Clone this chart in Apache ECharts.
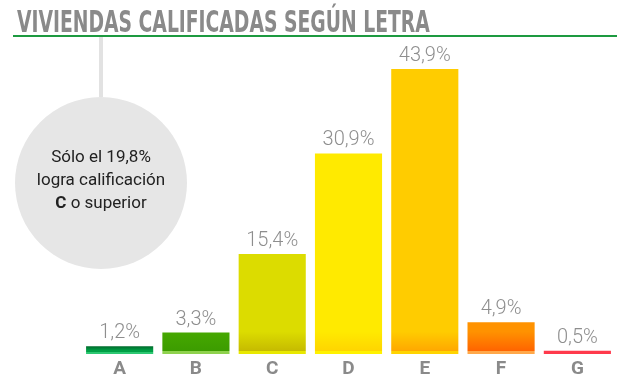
<!DOCTYPE html>
<html><head><meta charset="utf-8">
<script src="https://cdn.jsdelivr.net/npm/echarts@6/dist/echarts.min.js"></script>
<style>html,body{margin:0;padding:0;background:#fff}#c{width:633px;height:381px}</style>
</head><body><div id="c"></div>
<script>
const categories = ['A','B','C','D','E','F','G'];
const values = [1.2, 3.3, 15.4, 30.9, 43.9, 4.9, 0.5];
const valueLabels = ['1,2%','3,3%','15,4%','30,9%','43,9%','4,9%','0,5%'];
// [main, darker near bottom, bottom strip]
const barColors = [
  ['#00692b','#00a045','#2dc872'],
  ['#46a800','#3c9c00','#8fd24e'],
  ['#dcdc00','#c6bb00','#e8e800'],
  ['#ffea00','#ffd500','#fff200'],
  ['#ffcc00','#ffa800','#ffd400'],
  ['#ff9200','#ff6400','#ffa84a'],
  ['#ff3a4c','#ff2a40','#ff5060']
];
function grad(c, i){
  if (i === 0) {
    return new echarts.graphic.LinearGradient(0,0,0,1,[
      {offset:0,color:c[0]},{offset:0.55,color:c[1]},{offset:0.7,color:c[1]},{offset:0.72,color:c[2]},{offset:1,color:c[2]}]);
  }
  if (i === 6) return c[0];
  return {type:'linear', x:0, y:322, x2:0, y2:354, global:true, colorStops:[
    {offset:0,color:c[0]},{offset:0.3,color:c[0]},{offset:0.9,color:c[1]},{offset:0.92,color:c[2]},{offset:1,color:c[2]}]};
}
const chart = echarts.init(document.getElementById('c'));
chart.setOption({
  animation:false,
  grid:{left:81.5, right:17.5, top:29.5, bottom:27, containLabel:false},
  xAxis:{type:'category', data:categories, axisLine:{show:false}, axisTick:{show:false},
    axisLabel:{color:'#8a8a8a', fontSize:19, fontWeight:'bold', fontFamily:'Roboto', margin:6}},
  yAxis:{type:'value', min:0, max:50, show:false, splitLine:{show:false}},
  series:[{
    type:'bar', barWidth:'88%',
    data: values.map((v,i)=>({value:v, itemStyle:{color:grad(barColors[i], i)}})),
    label:{show:true, position:'top', distance:3, color:'#8e8e8e', fontSize:20, fontFamily:'Roboto', fontWeight:300,
      formatter:(p)=>valueLabels[p.dataIndex]}
  }],
  graphic:[
    {type:'text', x:13, y:9, scaleX:0.695, originX:13, style:{text:'VIVIENDAS CALIFICADAS SEGÚN LETRA', fill:'#8a8a8a',
      font:'bold 30px "Liberation Sans Narrow", "DejaVu Sans Condensed", sans-serif'}},
    {type:'rect', shape:{x:13, y:35, width:604, height:2}, style:{fill:'#1d9a40'}},
    {type:'rect', shape:{x:99, y:37, width:4, height:60}, style:{fill:'#e2e2e2'}},
    {type:'circle', shape:{cx:101, cy:183, r:86}, style:{fill:'#e6e6e6'}},
    {type:'text', x:101, y:181, style:{
      text:'Sólo el 19,8%\nlogra calificación\n{b|C} o superior', align:'center', verticalAlign:'middle',
      fill:'#222', font:'17px Roboto', lineHeight:23,
      rich:{b:{fontWeight:'bold', fontSize:17, fill:'#222', fontFamily:'Roboto'}}}}
  ]
});
</script></body></html>
